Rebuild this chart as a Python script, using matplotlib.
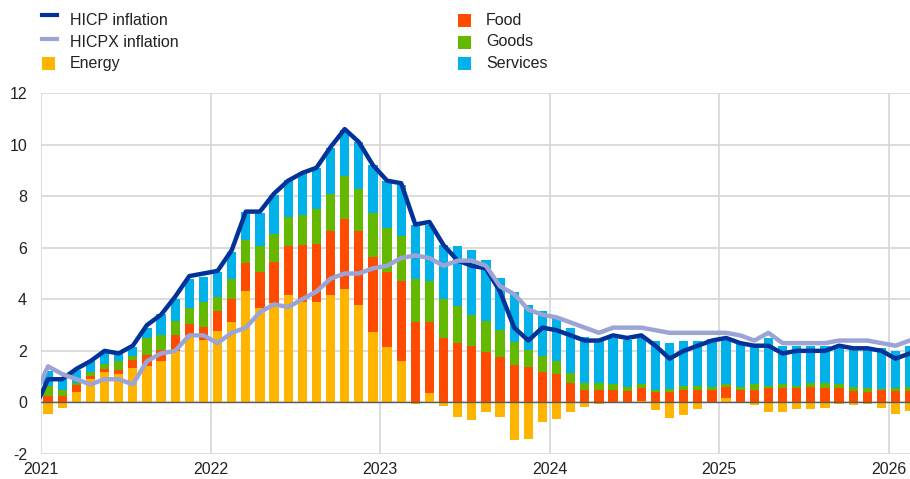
import matplotlib
matplotlib.use("Agg")
import matplotlib.pyplot as plt
from matplotlib.lines import Line2D
from matplotlib.patches import Rectangle
import numpy as np

plt.rcParams['font.family'] = ['Liberation Sans', 'DejaVu Sans']

# ---------------- data ----------------
years = ["2021", "2022", "2023", "2024", "2025", "2026"]

# contributions, monthly Jan 2021 - Feb 2026 (percentage points)
energy = [-0.43, -0.20, 0.41, 0.90, 1.17, 1.10, 1.34, 1.43, 1.60, 2.00, 2.63, 2.43,
          2.76, 3.11, 4.32, 3.66, 3.85, 4.15, 3.90, 3.89, 4.15, 4.38, 3.79, 2.75,
          2.14, 1.60, -0.05, 0.35, -0.12, -0.58, -0.68, -0.39, -0.58, -1.45, -1.40, -0.75,
          -0.63, -0.39, -0.18, -0.07, 0.00, 0.00, 0.05, -0.30, -0.62, -0.49, -0.25, 0.00,
          0.16, 0.00, -0.10, -0.37, -0.37, -0.27, -0.27, -0.22, -0.05, -0.10, -0.07, -0.22,
          -0.43, -0.33]
food = [0.26, 0.26, 0.26, 0.14, 0.13, 0.16, 0.31, 0.42, 0.44, 0.60, 0.42, 0.50,
        0.78, 0.89, 1.09, 1.40, 1.60, 1.91, 2.20, 2.25, 2.49, 2.75, 2.85, 2.89,
        2.92, 3.10, 3.11, 2.76, 2.50, 2.30, 2.17, 1.95, 1.75, 1.45, 1.36, 1.17,
        1.10, 0.75, 0.49, 0.49, 0.49, 0.45, 0.51, 0.39, 0.42, 0.49, 0.49, 0.49,
        0.45, 0.49, 0.49, 0.56, 0.56, 0.56, 0.61, 0.56, 0.56, 0.45, 0.42, 0.49,
        0.45, 0.45]
goods = [0.36, 0.23, 0.08, 0.15, 0.19, 0.36, 0.15, 0.65, 0.56, 0.55, 0.61, 0.95,
         0.55, 0.80, 0.88, 1.00, 1.10, 1.14, 1.15, 1.35, 1.44, 1.65, 1.62, 1.69,
         1.72, 1.75, 1.69, 1.59, 1.50, 1.44, 1.23, 1.19, 1.04, 0.88, 0.68, 0.63,
         0.50, 0.39, 0.26, 0.26, 0.21, 0.16, 0.14, 0.10, 0.12, 0.16, 0.15, 0.12,
         0.10, 0.12, 0.21, 0.09, 0.15, 0.09, 0.13, 0.18, 0.15, 0.16, 0.14, 0.03,
         0.11, 0.16]
services = [0.60, 0.42, 0.50, 0.40, 0.45, 0.25, 0.34, 0.40, 0.84, 0.85, 1.11, 0.98,
            0.97, 1.04, 1.10, 1.29, 1.49, 1.42, 1.65, 1.60, 1.78, 1.80, 1.84, 1.87,
            1.82, 1.98, 2.07, 2.20, 2.12, 2.32, 2.50, 2.40, 2.05, 1.95, 1.75, 1.74,
            1.72, 1.75, 1.78, 1.62, 1.78, 1.82, 1.83, 1.91, 1.76, 1.75, 1.76, 1.85,
            1.78, 1.72, 1.57, 1.84, 1.46, 1.55, 1.46, 1.46, 1.49, 1.53, 1.58, 1.59,
            1.45, 1.56]

# headline lines, monthly Dec 2020 - Feb 2026 (% y-o-y)
hicp = [-0.3, 0.9, 0.9, 1.3, 1.6, 2.0, 1.9, 2.2, 3.0, 3.4, 4.1, 4.9, 5.0,
        5.1, 5.9, 7.4, 7.4, 8.1, 8.6, 8.9, 9.1, 9.9, 10.6, 10.1, 9.2,
        8.6, 8.5, 6.9, 7.0, 6.1, 5.5, 5.3, 5.2, 4.3, 2.9, 2.4, 2.9,
        2.8, 2.6, 2.4, 2.4, 2.6, 2.5, 2.6, 2.2, 1.7, 2.0, 2.2, 2.4,
        2.5, 2.3, 2.2, 2.2, 1.9, 2.0, 2.0, 2.0, 2.2, 2.1, 2.1, 2.0,
        1.7, 1.9]
hicpx = [0.2, 1.4, 1.1, 0.9, 0.7, 0.9, 0.9, 0.7, 1.6, 1.9, 2.0, 2.6, 2.6,
         2.3, 2.7, 2.9, 3.5, 3.8, 3.7, 4.0, 4.3, 4.8, 5.0, 5.0, 5.2,
         5.3, 5.6, 5.7, 5.6, 5.3, 5.5, 5.5, 5.3, 4.5, 4.2, 3.6, 3.4,
         3.3, 3.1, 2.9, 2.7, 2.9, 2.9, 2.9, 2.8, 2.7, 2.7, 2.7, 2.7,
         2.7, 2.6, 2.4, 2.7, 2.3, 2.3, 2.3, 2.3, 2.4, 2.4, 2.4, 2.3,
         2.2, 2.4]

legend_left = ["HICP inflation", "HICPX inflation", "Energy"]
legend_right = ["Food", "Goods", "Services"]

# ---------------- styling ----------------
C_HICP = "#003299"
C_HICPX = "#9ca4d6"
C_EN = "#FFB400"
C_FO = "#FF4B00"
C_GO = "#65B800"
C_SE = "#00B1EA"
GRID = "#d9d9d9"
TXT = "#222222"
FS = 11.5

W, H = 910, 479
fig = plt.figure(figsize=(W / 100, H / 100), dpi=100)
ax = fig.add_axes([41 / W, 1 - 454 / H, 1 - 41 / W, (454 - 93) / H])

en = np.array(energy)
fo = np.array(food)
go = np.array(goods)
se = np.array(services)
xb = np.arange(len(en)) + 0.5
bw = 0.66

en_pos = np.clip(en, 0, None)
ax.bar(xb, en, width=bw, color=C_EN, zorder=2, linewidth=0)
b1 = en_pos
ax.bar(xb, fo, bottom=b1, width=bw, color=C_FO, zorder=2, linewidth=0)
b2 = b1 + fo
ax.bar(xb, go, bottom=b2, width=bw, color=C_GO, zorder=2, linewidth=0)
b3 = b2 + go
ax.bar(xb, se, bottom=b3, width=bw, color=C_SE, zorder=2, linewidth=0)

xl = np.arange(len(hicp)) - 0.5
ax.plot(xl, hicp, color=C_HICP, lw=3.2, zorder=4, solid_joinstyle='round')
ax.plot(xl, hicpx, color=C_HICPX, lw=3.2, zorder=5, solid_joinstyle='round')

ax.axhline(0, color="#5a5a5a", lw=1.0, zorder=3)

ax.set_xlim(0, (W - 41) / 14.125)
ax.set_ylim(-2, 12)
ax.set_yticks(np.arange(-2, 13, 2))
ax.set_yticklabels([str(v) for v in range(-2, 13, 2)])
ax.set_xticks(np.arange(len(years)) * 12)
ax.set_xticklabels(years)
ax.grid(True, color=GRID, lw=1.3, zorder=0)
ax.set_axisbelow(True)
for s in ax.spines.values():
    s.set_visible(False)
ax.tick_params(length=0, labelsize=FS, colors=TXT)
ax.tick_params(axis='y', pad=10)
ax.tick_params(axis='x', pad=6)


# ---------------- legend (manual) ----------------
def fx(px):
    return px / W


def fy(py):
    return 1 - py / H


line_items = [(legend_left[0], C_HICP, 15, 20.5), (legend_left[1], C_HICPX, 39, 42.5)]
for label, col, ym, yt in line_items:
    fig.add_artist(Line2D([fx(42), fx(57)], [fy(ym), fy(ym)], color=col, lw=3,
                          transform=fig.transFigure))
    fig.text(fx(70), fy(yt), label, fontsize=FS, color=TXT, va='center', ha='left')

sq_items = [(legend_left[2], C_EN, 42, 63.5, 70),
            (legend_right[0], C_FO, 458, 20.5, 486),
            (legend_right[1], C_GO, 458, 42, 486),
            (legend_right[2], C_SE, 458, 63.5, 486)]
for label, col, xs, yc, xt in sq_items:
    fig.add_artist(Rectangle((fx(xs), fy(yc + 6.5)), 13 / W, 13 / H, color=col,
                             transform=fig.transFigure, linewidth=0))
    fig.text(fx(xt), fy(yc), label, fontsize=FS, color=TXT, va='center', ha='left')

fig.savefig("out.png", dpi=100)
